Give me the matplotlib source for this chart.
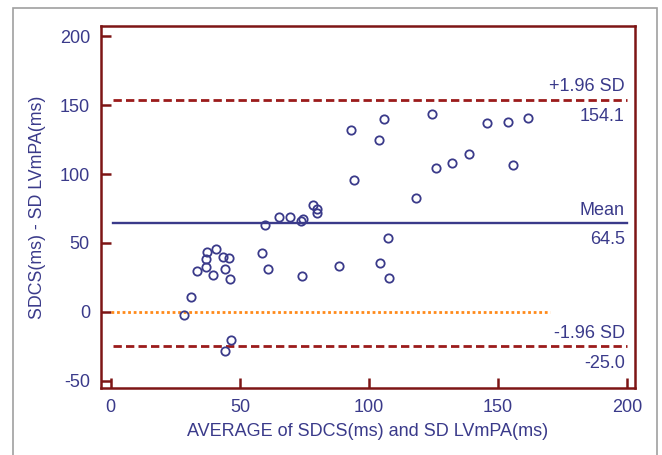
import numpy as np
import matplotlib
matplotlib.use("Agg")
import matplotlib.pyplot as plt
from matplotlib.patches import Rectangle

plt.rcParams["font.family"] = ["Liberation Sans", "DejaVu Sans"]
plt.rcParams["axes.unicode_minus"] = False

# Bland-Altman data
avg = [28.4, 31.0, 33.4, 37.2, 36.9, 37.0, 39.5, 40.7, 43.6, 45.7, 44.1, 46.1,
       46.6, 44.4, 58.7, 59.7, 60.7, 65.2, 69.5, 73.6, 74.4, 73.9, 78.2, 79.8,
       80.0, 88.5, 93.1, 94.1, 103.8, 105.7, 104.4, 107.2, 107.9, 118.0, 124.4,
       125.9, 132.1, 138.7, 145.6, 153.9, 155.9, 161.5]
diff = [-2.4, 10.9, 29.9, 43.2, 38.3, 32.8, 26.9, 45.4, 39.6, 39.3, 31.1, 24.0,
        -20.6, -28.4, 43.0, 63.3, 30.8, 69.2, 69.2, 66.0, 67.2, 26.0, 77.9, 74.3,
        71.8, 33.5, 132.0, 95.6, 124.5, 139.8, 35.4, 53.6, 24.3, 82.5, 143.4,
        104.4, 108.3, 114.8, 136.9, 137.9, 106.3, 140.5]
mean_d = 64.5
upper = 154.1
lower = -25.0

navy = "#3a3a8a"
dred = "#7d1515"
lred = "#9b1b1b"
orange = "#ff8a1a"

fig = plt.figure(figsize=(6.62, 4.55), dpi=100)
fig.patches.append(Rectangle((13 / 662, -0.01), 644 / 662, 1 - 8 / 455 + 0.01,
                             transform=fig.transFigure, fill=False,
                             ec="#a0a0a0", lw=1.2))
ax = fig.add_axes([101 / 662, 1 - 388 / 455, 534 / 662, 362 / 455])

ax.plot([0, 170], [0, 0], ls=(0, (1, 1)), color=orange, lw=2)
ax.plot([1, 200], [mean_d, mean_d], color=navy, lw=1.7)
ax.plot([1, 200], [upper, upper], ls=(0, (3, 1.5)), color=lred, lw=2)
ax.plot([1, 200], [lower, lower], ls=(0, (3, 1.5)), color=lred, lw=2)
ax.plot(avg, diff, "o", mfc="none", mec=navy, ms=6, mew=1.3)

fs = 13
ax.text(199, upper + 3, "+1.96 SD", ha="right", va="bottom", color=navy, fontsize=fs)
ax.text(199, upper - 6, f"{upper:.1f}", ha="right", va="top", color=navy, fontsize=fs)
ax.text(199, mean_d + 3, "Mean", ha="right", va="bottom", color=navy, fontsize=fs)
ax.text(199, mean_d - 6, f"{mean_d:.1f}", ha="right", va="top", color=navy, fontsize=fs)
ax.text(199, lower + 3, "-1.96 SD", ha="right", va="bottom", color=navy, fontsize=fs)
ax.text(199, lower - 6, f"{lower:.1f}", ha="right", va="top", color=navy, fontsize=fs)

ax.set_xlim(-3.8, 203)
ax.set_ylim(-55.3, 207.5)
ax.set_xticks([0, 50, 100, 150, 200])
ax.set_yticks([-50, 0, 50, 100, 150, 200])
ax.tick_params(direction="in", length=7, width=1.8, color=dred,
               labelcolor=navy, labelsize=fs, pad=8)
for s in ax.spines.values():
    s.set_color(dred)
    s.set_linewidth(1.8)
ax.set_xlabel("AVERAGE of SDCS(ms) and SD LVmPA(ms)", color=navy, fontsize=13, labelpad=5)
ax.set_ylabel("SDCS(ms) - SD LVmPA(ms)", color=navy, fontsize=12.8, labelpad=10)

fig.savefig("out.png", dpi=100)
